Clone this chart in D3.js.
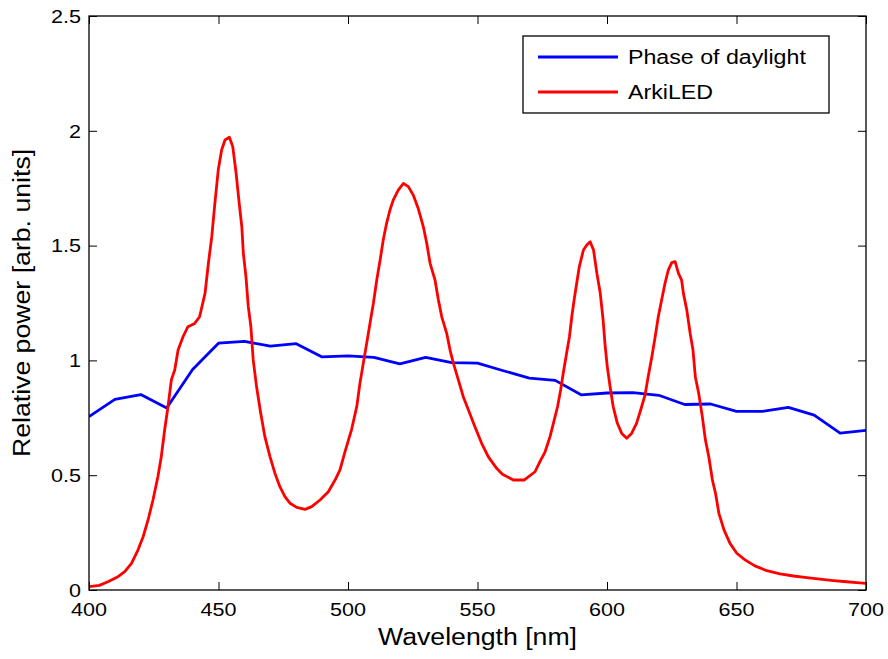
<!DOCTYPE html>
<html>
<head>
<meta charset="utf-8">
<script src="https://cdn.jsdelivr.net/npm/d3@7"></script>
<style>
  html, body { margin: 0; padding: 0; background: #fff; }
  svg { display: block; font-family: "Liberation Sans", Arial, Helvetica, sans-serif; }
</style>
</head>
<body>
<div id="chart"></div>
<script>
// ---- Data ----
const xTicks = [400, 450, 500, 550, 600, 650, 700];
const yTicks = [0, 0.5, 1, 1.5, 2, 2.5];
const xTickLabels = ["400", "450", "500", "550", "600", "650", "700"];
const yTickLabels = ["0", "0.5", "1", "1.5", "2", "2.5"];

const seriesNames = ["Phase of daylight", "ArkiLED"];
const seriesColors = ["#0000ff", "#ff0000"];

// Phase of daylight (10 nm steps)
const daylightWl = [400, 410, 420, 430, 440, 450, 460, 470, 480, 490, 500, 510, 520, 530, 540, 550,
  560, 570, 580, 590, 600, 610, 620, 630, 640, 650, 660, 670, 680, 690, 700];
const daylightVal = [0.755, 0.830, 0.851, 0.793, 0.960, 1.075, 1.083, 1.062, 1.073, 1.015, 1.020, 1.013, 0.985, 1.013, 0.990, 0.988,
  0.955, 0.923, 0.913, 0.850, 0.858, 0.860, 0.848, 0.808, 0.810, 0.778, 0.778, 0.795, 0.762, 0.683, 0.695];

// ArkiLED spectrum
const ledWl = [400, 404, 407.3, 411.2, 413.8, 416.4, 418.9, 420.9, 422.8, 424.7, 426.6, 427.9, 429.2, 430.5, 431.8, 433.1,
  434.4, 436.3, 438.2, 440.8, 442.7, 444.8, 446.1, 447.4, 448.6, 449.9, 451.2, 452.5, 454.2, 455.5, 456.8, 458.0,
  459.0, 459.6, 460.6, 461.5, 462.5, 463.4, 464.7, 466.3, 467.9, 469.9, 471.8, 473.7, 475.7, 477.6, 480.2, 483.4,
  486.0, 489.2, 492.4, 495.0, 496.9, 498.8, 501.4, 503.4, 504.6, 505.9, 507.2, 508.5, 509.8, 511.1, 512.4, 513.6,
  514.9, 516.2, 517.5, 519.4, 521.4, 523.3, 525.2, 527.1, 529.1, 530.4, 531.7, 533.6, 534.9, 536.2, 538.1, 539.4,
  540.7, 542.6, 544.5, 546.5, 549.0, 551.6, 554.2, 557.4, 559.5, 563.8, 568.0, 572.2, 574.1, 576.1, 578.0, 579.3,
  580.9, 582.1, 583.1, 584.4, 585.5, 586.4, 587.3, 588.3, 589.3, 590.9, 592.2, 593.5, 594.8, 596.1, 597.4, 598.5,
  599.2, 600.1, 601.2, 602.4, 604.0, 605.7, 607.6, 609.5, 611.4, 613.0, 614.7, 616.0, 617.3, 618.6, 619.8, 621.1,
  622.4, 623.7, 625.0, 626.3, 627.6, 628.8, 629.5, 630.8, 632.1, 633.2, 634.1, 635.4, 636.8, 638.0, 639.3, 640.7,
  641.9, 643.2, 645.2, 647.5, 650.1, 653.3, 657.1, 661.7, 666.8, 672.0, 677.1, 682.2, 687.4, 692.5, 696.4, 700];
const ledVal = [0.015, 0.020, 0.036, 0.058, 0.080, 0.116, 0.174, 0.232, 0.305, 0.392, 0.493, 0.580, 0.697, 0.798, 0.915, 0.958,
  1.045, 1.103, 1.147, 1.161, 1.190, 1.292, 1.423, 1.539, 1.684, 1.829, 1.916, 1.960, 1.972, 1.931, 1.815, 1.684,
  1.582, 1.466, 1.365, 1.234, 1.147, 1.002, 0.885, 0.770, 0.668, 0.580, 0.508, 0.450, 0.406, 0.378, 0.360, 0.351,
  0.363, 0.392, 0.428, 0.479, 0.523, 0.600, 0.700, 0.800, 0.900, 0.987, 1.074, 1.162, 1.249, 1.350, 1.437, 1.524,
  1.597, 1.655, 1.699, 1.742, 1.771, 1.757, 1.720, 1.662, 1.582, 1.510, 1.423, 1.350, 1.263, 1.190, 1.118, 1.045,
  0.987, 0.915, 0.842, 0.784, 0.711, 0.639, 0.580, 0.530, 0.505, 0.479, 0.479, 0.515, 0.559, 0.602, 0.668, 0.726,
  0.798, 0.871, 0.944, 1.031, 1.103, 1.190, 1.263, 1.336, 1.408, 1.481, 1.503, 1.517, 1.481, 1.379, 1.292, 1.176,
  1.074, 0.973, 0.885, 0.798, 0.726, 0.682, 0.661, 0.682, 0.726, 0.784, 0.850, 0.935, 1.015, 1.103, 1.190, 1.263,
  1.336, 1.394, 1.426, 1.430, 1.379, 1.350, 1.292, 1.220, 1.118, 1.045, 0.929, 0.857, 0.755, 0.653, 0.580, 0.479,
  0.421, 0.334, 0.261, 0.203, 0.160, 0.131, 0.105, 0.084, 0.070, 0.061, 0.054, 0.047, 0.041, 0.036, 0.032, 0.029];

const xLabel = "Wavelength [nm]";
const yLabel = "Relative power [arb. units]";

// ---- Layout ----
const W = 888, H = 659;
const plot = { left: 89, top: 16, right: 866, bottom: 590 };
const stretch = 1.16;

const svg = d3.select("#chart").append("svg").attr("width", W).attr("height", H);

const x = d3.scaleLinear().domain([400, 700]).range([plot.left, plot.right]);
const y = d3.scaleLinear().domain([0, 2.5]).range([plot.bottom, plot.top]);

// Lines
const line = d3.line().x(d => x(d[0])).y(d => y(d[1]));
const daylight = daylightWl.map((w, i) => [w, daylightVal[i]]);
const led = ledWl.map((w, i) => [w, ledVal[i]]);

const clip = svg.append("clipPath").attr("id", "clip").append("rect")
  .attr("x", plot.left).attr("y", plot.top)
  .attr("width", plot.right - plot.left).attr("height", plot.bottom - plot.top);

const g = svg.append("g").attr("clip-path", "url(#clip)");
g.append("path").datum(daylight).attr("d", line)
  .attr("fill", "none").attr("stroke", seriesColors[0]).attr("stroke-width", 2.8)
  .attr("stroke-linejoin", "round");
g.append("path").datum(led).attr("d", line)
  .attr("fill", "none").attr("stroke", seriesColors[1]).attr("stroke-width", 2.8)
  .attr("stroke-linejoin", "round");

// Axes (inward ticks, MATLAB-style box)
const tickLen = 8;
function styleAxis(sel) {
  sel.select(".domain").remove();
  sel.selectAll(".tick line").attr("stroke", "#000").attr("stroke-width", 1);
  sel.selectAll(".tick text").remove();
}
svg.append("g").attr("transform", `translate(0,${plot.bottom})`)
  .call(d3.axisBottom(x).tickValues(xTicks).tickSize(-tickLen)).call(styleAxis);
svg.append("g").attr("transform", `translate(0,${plot.top})`)
  .call(d3.axisTop(x).tickValues(xTicks).tickSize(-tickLen)).call(styleAxis);
svg.append("g").attr("transform", `translate(${plot.left},0)`)
  .call(d3.axisLeft(y).tickValues(yTicks).tickSize(-tickLen)).call(styleAxis);
svg.append("g").attr("transform", `translate(${plot.right},0)`)
  .call(d3.axisRight(y).tickValues(yTicks).tickSize(-tickLen)).call(styleAxis);

svg.append("rect")
  .attr("x", plot.left).attr("y", plot.top)
  .attr("width", plot.right - plot.left).attr("height", plot.bottom - plot.top)
  .attr("fill", "none").attr("stroke", "#000").attr("stroke-width", 1.3);

// Tick labels
const tickFont = 18.6;
svg.append("g").selectAll("text").data(xTicks).join("text")
  .attr("transform", d => `translate(${x(d)},${plot.bottom + 26}) scale(${stretch},1)`)
  .attr("text-anchor", "middle").attr("font-size", tickFont).attr("fill", "#000")
  .text((d, i) => xTickLabels[i]);
svg.append("g").selectAll("text").data(yTicks).join("text")
  .attr("transform", d => `translate(${plot.left - 8},${y(d) + 6.7}) scale(${stretch},1)`)
  .attr("text-anchor", "end").attr("font-size", tickFont).attr("fill", "#000")
  .text((d, i) => yTickLabels[i]);

// Axis titles
svg.append("text")
  .attr("transform", `translate(${(plot.left + plot.right) / 2},645) scale(${stretch},1)`)
  .attr("text-anchor", "middle").attr("font-size", 23).attr("fill", "#000")
  .text(xLabel);
svg.append("text")
  .attr("transform", `translate(30,${(plot.top + plot.bottom) / 2}) rotate(-90) scale(${stretch},1)`)
  .attr("text-anchor", "middle").attr("font-size", 23).attr("fill", "#000")
  .text(yLabel);

// Legend
const legend = svg.append("g");
legend.append("rect").attr("x", 523).attr("y", 36).attr("width", 306).attr("height", 77)
  .attr("fill", "#fff").attr("stroke", "#000").attr("stroke-width", 1.3);
const legY = d3.scalePoint().domain(seriesNames).range([57, 92]);
seriesNames.forEach((name, i) => {
  legend.append("line").attr("x1", 538).attr("x2", 618)
    .attr("y1", legY(name)).attr("y2", legY(name))
    .attr("stroke", seriesColors[i]).attr("stroke-width", 2.8);
  legend.append("text")
    .attr("transform", `translate(628,${legY(name) + 7}) scale(${stretch},1)`)
    .attr("font-size", 20).attr("fill", "#000").text(name);
});
</script>
</body>
</html>
